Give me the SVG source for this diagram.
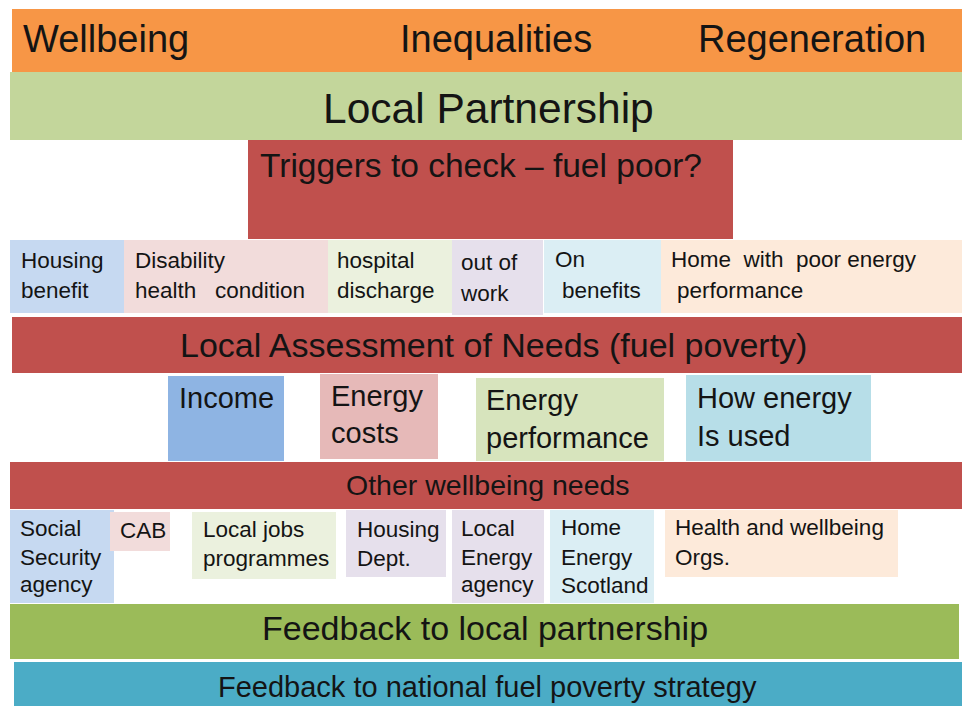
<svg xmlns="http://www.w3.org/2000/svg" width="962" height="706" viewBox="0 0 962 706">
<style>
text{font-family:"Liberation Sans",Arial,sans-serif;fill:#141414}
.t38{font-size:38px}
.t42{font-size:42.5px}
.t33{font-size:33.5px}
.t34{font-size:34px}
.t29{font-size:29px}
.t28{font-size:28.5px}
.s{font-size:22.5px}
</style>
<rect width="962" height="706" fill="#fff"/>
<g id="top-themes">
<rect x="12" y="9" width="950" height="63" fill="#F79646"/>
<text class="t38" x="23" y="52">Wellbeing</text>
<text class="t38" x="400" y="52">Inequalities</text>
<text class="t38" x="698" y="52">Regeneration</text>
</g>
<g id="local-partnership">
<rect x="10" y="72" width="952" height="68" fill="#C3D69B"/>
<text class="t42" x="323" y="123">Local Partnership</text>
</g>
<g id="triggers">
<rect x="248" y="140" width="485" height="99" fill="#C0504D"/>
<text class="t33" x="260" y="177">Triggers to check – fuel poor?</text>
</g>
<g id="housing-benefit">
<rect x="10" y="240" width="114" height="73" fill="#C6D9F1"/>
<text class="s" x="21" y="268">Housing</text>
<text class="s" x="21" y="298">benefit</text>
</g>
<g id="disability">
<rect x="124" y="240" width="204" height="73" fill="#F2DCDB"/>
<text class="s" x="135" y="268">Disability</text>
<text class="s" x="135" y="298" xml:space="preserve">health   condition</text>
</g>
<g id="hospital-discharge">
<rect x="328" y="240" width="124" height="73" fill="#EBF1DE"/>
<text class="s" x="337" y="268">hospital</text>
<text class="s" x="337" y="298">discharge</text>
</g>
<g id="out-of-work">
<rect x="452" y="240" width="91" height="75" fill="#E6E0EC"/>
<text class="s" x="461" y="270">out of</text>
<text class="s" x="461" y="301">work</text>
</g>
<g id="on-benefits">
<rect x="544" y="240" width="117" height="73" fill="#DBEEF4"/>
<text class="s" x="555" y="267">On</text>
<text class="s" x="562" y="298">benefits</text>
</g>
<g id="home-poor-energy">
<rect x="661" y="240" width="301" height="73" fill="#FDEADA"/>
<text class="s" x="671" y="267" xml:space="preserve">Home  with  poor energy</text>
<text class="s" x="677" y="298">performance</text>
</g>
<g id="local-assessment">
<rect x="12" y="317" width="950" height="56" fill="#C0504D"/>
<text class="t34" x="180" y="357">Local Assessment of Needs (fuel poverty)</text>
</g>
<g id="income">
<rect x="168" y="376" width="116" height="85" fill="#8EB4E3"/>
<text class="t29" x="179" y="408">Income</text>
</g>
<g id="energy-costs">
<rect x="320" y="374" width="118" height="85" fill="#E6B9B8"/>
<text class="t29" x="331" y="406">Energy</text>
<text class="t29" x="331" y="443">costs</text>
</g>
<g id="energy-performance">
<rect x="476" y="378" width="188" height="83" fill="#D7E4BD"/>
<text class="t29" x="486" y="410">Energy</text>
<text class="t29" x="486" y="448">performance</text>
</g>
<g id="how-energy-used">
<rect x="686" y="375" width="185" height="86" fill="#B7DEE8"/>
<text class="t29" x="697" y="408">How energy</text>
<text class="t29" x="697" y="446">Is used</text>
</g>
<g id="other-wellbeing">
<rect x="10" y="462" width="952" height="47" fill="#C0504D"/>
<text class="t28" x="346" y="495">Other wellbeing needs</text>
</g>
<g id="social-security">
<rect x="10" y="510" width="104" height="93" fill="#C6D9F1"/>
<text class="s" x="20" y="536">Social</text>
<text class="s" x="20" y="565">Security</text>
<text class="s" x="20" y="592">agency</text>
</g>
<g id="cab">
<rect x="110" y="512" width="60" height="39" fill="#F2DCDB"/>
<text class="s" x="120" y="538">CAB</text>
</g>
<g id="local-jobs">
<rect x="192" y="512" width="144" height="67" fill="#EBF1DE"/>
<text class="s" x="203" y="537">Local jobs</text>
<text class="s" x="203" y="566">programmes</text>
</g>
<g id="housing-dept">
<rect x="346" y="510" width="100" height="67" fill="#E6E0EC"/>
<text class="s" x="357" y="537">Housing</text>
<text class="s" x="357" y="566">Dept.</text>
</g>
<g id="local-energy-agency">
<rect x="452" y="510" width="92" height="93" fill="#E6E0EC"/>
<text class="s" x="461" y="536">Local</text>
<text class="s" x="461" y="565">Energy</text>
<text class="s" x="461" y="592">agency</text>
</g>
<g id="home-energy-scotland">
<rect x="550" y="510" width="104" height="93" fill="#DBEEF4"/>
<text class="s" x="561" y="535">Home</text>
<text class="s" x="561" y="565">Energy</text>
<text class="s" x="561" y="593">Scotland</text>
</g>
<g id="health-wellbeing-orgs">
<rect x="665" y="510" width="233" height="67" fill="#FDEADA"/>
<text class="s" x="675" y="535">Health and wellbeing</text>
<text class="s" x="675" y="565">Orgs.</text>
</g>
<g id="feedback-local">
<rect x="10" y="604" width="949" height="55" fill="#9BBB59"/>
<text class="t34" x="262" y="640">Feedback to local partnership</text>
</g>
<g id="feedback-national">
<rect x="14" y="662" width="948" height="44" fill="#4BACC6"/>
<text class="t29" x="218" y="697">Feedback to national fuel poverty strategy</text>
</g>
<g id="connectors"/>
</svg>
